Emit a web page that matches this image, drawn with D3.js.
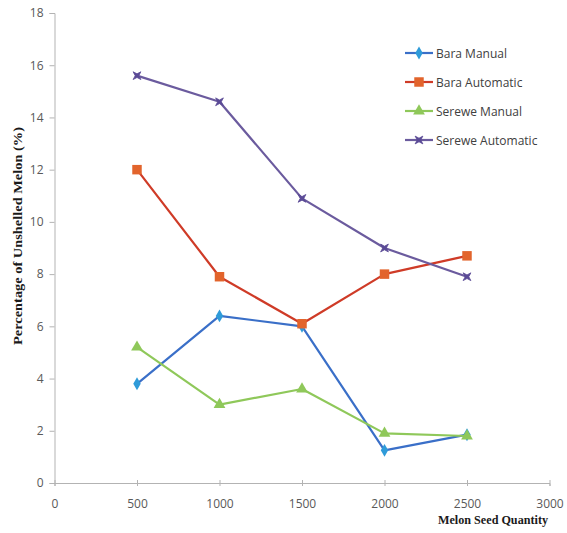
<!DOCTYPE html>
<html>
<head>
<meta charset="utf-8">
<script src="https://cdn.jsdelivr.net/npm/d3@7"></script>
<style>
  html, body { margin: 0; padding: 0; background: #fff; }
  svg { display: block; }
</style>
</head>
<body>
<svg id="chart" width="567" height="533"></svg>
<script>
// Melon seed quantities tested
const quantities = [500, 1000, 1500, 2000, 2500];

// Percentage of unshelled melon for each sheller / mode
const baraManual = [3.8, 6.4, 6.0, 1.25, 1.85];
const baraAutomatic = [12.0, 7.9, 6.1, 8.0, 8.7];
const sereweManual = [5.2, 3.0, 3.6, 1.9, 1.8];
const sereweAutomatic = [15.6, 14.6, 10.9, 9.0, 7.9];

const seriesNames = ["Bara Manual", "Bara Automatic", "Serewe Manual", "Serewe Automatic"];

const xTicks = [0, 500, 1000, 1500, 2000, 2500, 3000];
const yTicks = [0, 2, 4, 6, 8, 10, 12, 14, 16, 18];

const series = [
  { name: seriesNames[0], values: baraManual, line: "#3a6fc8", fill: "#2f9bd9", marker: "diamond" },
  { name: seriesNames[1], values: baraAutomatic, line: "#cf3b27", fill: "#e2642c", marker: "square" },
  { name: seriesNames[2], values: sereweManual, line: "#8fc85a", fill: "#8fc85a", marker: "triangle" },
  { name: seriesNames[3], values: sereweAutomatic, line: "#6b5b9e", fill: "#5a4a96", marker: "star4" }
];

const svg = d3.select("#chart");
const margin = { left: 54.5, right: 17.5, top: 13, bottom: 50 };
const W = 567, H = 533;

const x = d3.scaleLinear().domain([0, 3000]).range([margin.left, W - margin.right]);
const y = d3.scaleLinear().domain([0, 18]).range([H - margin.bottom, margin.top]);

const axisColor = "#b3b3b3";
const labelColor = "#595959";
const tickFont = "'Open Sans', 'Liberation Sans', sans-serif";

// Y axis
const yAxis = svg.append("g")
  .attr("transform", `translate(${margin.left},0)`)
  .call(d3.axisLeft(y).tickValues(yTicks).tickSize(5).tickPadding(6).tickFormat(d3.format("d")));
yAxis.select(".domain").attr("stroke", axisColor);
yAxis.selectAll(".tick line").attr("stroke", axisColor);
yAxis.selectAll(".tick text").attr("fill", labelColor).style("font-family", tickFont).style("font-size", "12px");

// X axis (ticks cross the axis line)
const xAxis = svg.append("g")
  .attr("transform", `translate(0,${y(0)})`)
  .call(d3.axisBottom(x).tickValues(xTicks).tickSize(3).tickPadding(13).tickFormat(d3.format("d")));
xAxis.select(".domain").attr("stroke", axisColor);
xAxis.selectAll(".tick line").attr("stroke", axisColor).attr("y1", -3).attr("y2", 3);
xAxis.selectAll(".tick text").attr("fill", labelColor).style("font-family", tickFont).style("font-size", "12px");

// Axis titles
svg.append("text")
  .attr("transform", `translate(22,${236}) rotate(-90)`)
  .attr("text-anchor", "middle")
  .attr("textLength", 218)
  .attr("lengthAdjust", "spacingAndGlyphs")
  .style("font-family", "'Liberation Serif', 'Times New Roman', serif")
  .style("font-weight", "bold")
  .style("font-size", "12px")
  .attr("fill", "#1a1a1a")
  .text("Percentage of Unshelled Melon (%)");

svg.append("text")
  .attr("x", 438)
  .attr("y", 524)
  .attr("textLength", 110)
  .attr("lengthAdjust", "spacingAndGlyphs")
  .style("font-family", "'Liberation Serif', 'Times New Roman', serif")
  .style("font-weight", "bold")
  .style("font-size", "12px")
  .attr("fill", "#1a1a1a")
  .text("Melon Seed Quantity");

// Marker shapes
function markerPath(kind) {
  switch (kind) {
    case "diamond": return d3.symbol(d3.symbolDiamond, 48)();
    case "square": return d3.symbol(d3.symbolSquare, 90)();
    case "triangle": return d3.symbol(d3.symbolTriangle, 60)();
    case "star4": {
      const r = 5.5, i = 1.8;
      const pts = [];
      for (let k = 0; k < 8; k++) {
        const a = Math.PI / 4 + k * Math.PI / 4;
        const rr = k % 2 === 0 ? r : i;
        pts.push([rr * Math.cos(a), rr * Math.sin(a)]);
      }
      return "M" + pts.map(p => p.join(",")).join("L") + "Z";
    }
  }
}

const line = d3.line()
  .x((d, i) => x(quantities[i]))
  .y(d => y(d));

series.forEach(s => {
  const g = svg.append("g");
  g.append("path")
    .datum(s.values)
    .attr("fill", "none")
    .attr("stroke", s.line)
    .attr("stroke-width", 2.2)
    .attr("stroke-linejoin", "round")
    .attr("d", line);
  g.selectAll("path.mk")
    .data(s.values)
    .join("path")
    .attr("class", "mk")
    .attr("transform", (d, i) => `translate(${x(quantities[i])},${y(d)})`)
    .attr("d", markerPath(s.marker))
    .attr("fill", s.fill)
    .attr("stroke", s.marker === "star4" ? s.fill : "none")
    .attr("stroke-width", 0.8);
});

// Legend
const legend = svg.append("g").attr("transform", "translate(405,53)");
series.forEach((s, i) => {
  const row = legend.append("g").attr("transform", `translate(0,${i * 29})`);
  row.append("line")
    .attr("x1", 0).attr("x2", 28).attr("y1", 0).attr("y2", 0)
    .attr("stroke", s.line).attr("stroke-width", 2.2);
  row.append("path")
    .attr("transform", "translate(14,0)")
    .attr("d", markerPath(s.marker))
    .attr("fill", s.fill)
    .attr("stroke", s.marker === "star4" ? s.fill : "none")
    .attr("stroke-width", 0.8);
  row.append("text")
    .attr("x", 31)
    .attr("y", 4.5)
    .style("font-family", tickFont)
    .style("font-size", "12px")
    .attr("fill", "#404040")
    .text(s.name);
});
</script>
</body>
</html>
